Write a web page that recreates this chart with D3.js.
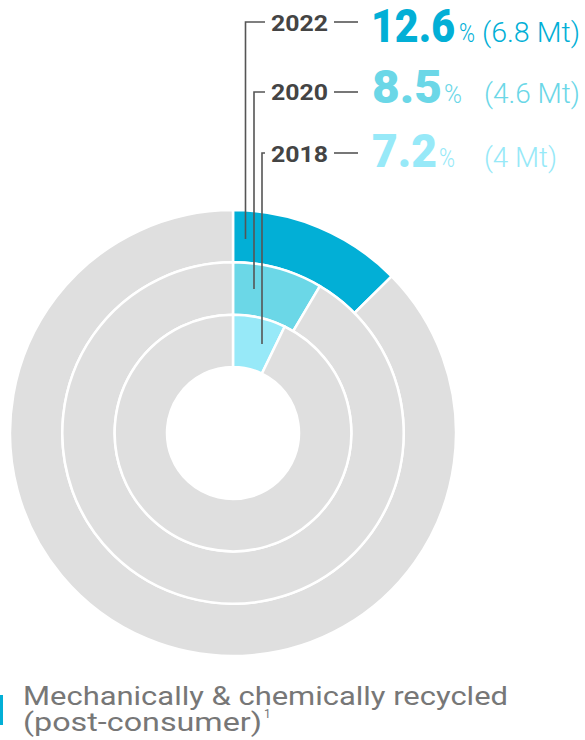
<!DOCTYPE html>
<html>
<head>
<meta charset="utf-8">
<script src="https://cdn.jsdelivr.net/npm/d3@7"></script>
<style>
  body { margin: 0; background: #fff; }
  svg { display: block; font-family: Roboto, "Open Sans", sans-serif; }
  .year { font-weight: 700; fill: #444; font-size: 22px; }
  .big { font-weight: 900; font-size: 47px; }
  .pct { font-weight: 300; font-size: 26px; }
  .unit { font-weight: 300; font-size: 28px; }
  .legend { fill: #777; font-size: 26px; }
</style>
</head>
<body>
<div class="chart"></div>
<script>
// data
var years = ["2022", "2020", "2018"]
var share = [12.6, 8.5, 7.2]
var tonnes = ["(6.8 Mt)", "(4.6 Mt)", "(4 Mt)"]
var legendLines = ["Mechanically & chemically recycled", "(post-consumer)"]

var ringColor = ["#02afd6", "#6bd7e7", "#97e9f8"]
var grey = "#dfdfdf"

let svg = d3.select('div.chart').append('svg')
  .attr("width", 585).attr("height", 740)

var cx = 233, cy = 433

// ring radius scale: outer ring first
let ring = d3.scaleBand()
  .domain(years)
  .range([223, 66])

let angle = d3.scaleLinear()
  .domain([0, 100])
  .range([0, 2 * Math.PI])

let pie = d3.pie().sort(null).value(d => angle(d))

let g = svg.append('g').attr("transform", "translate(" + cx + "," + cy + ")")

years.forEach((y, i) => {
  let arc = d3.arc()
    .innerRadius(ring(y))
    .outerRadius(ring(y) + ring.bandwidth())

  g.append('g')
    .selectAll('path')
    .data(pie([share[i], 100 - share[i]]))
    .enter()
    .append('path')
    .attr('d', arc)
    .attr('fill', (d, j) => j == 0 ? ringColor[i] : grey)
    .attr('stroke', '#fff')
    .attr('stroke-width', 2.5)
})

// labels + leader lines
var rowY = [22, 92, 153]
var yearBase = [31, 100, 162]
var numBase = [42, 103, 167]
var lineX = [245.5, 254, 262]
var lineEnd = [239, 289, 344]
var numX = [371, 372, 372]
var numW = [84, 70, 65]
var pctX = [459, 444, 439]
var pctW = [16, 18, 16]
var unitX = [482, 484, 484]
var unitW = [98, 96, 73]

years.forEach((y, i) => {
  // elbow line
  svg.append('path')
    .attr('d', "M" + lineX[i] + "," + lineEnd[i] + "V" + rowY[i] + "H265")
    .attr('fill', 'none')
    .attr('stroke', '#555')
    .attr('stroke-width', 1.6)

  svg.append('text')
    .attr("class", "year")
    .attr('x', 271)
    .attr('y', yearBase[i])
    .attr('textLength', 57)
    .attr('lengthAdjust', 'spacingAndGlyphs')
    .text(y)

  svg.append('line')
    .attr('x1', 334).attr('x2', 358)
    .attr('y1', rowY[i]).attr('y2', rowY[i])
    .attr('stroke', '#555')
    .attr('stroke-width', 1.6)

  svg.append('text')
    .attr("class", "big")
    .attr('x', numX[i])
    .attr('y', numBase[i])
    .attr('fill', ringColor[i])
    .attr('textLength', numW[i])
    .attr('lengthAdjust', 'spacingAndGlyphs')
    .text(share[i])

  svg.append('text')
    .attr("class", "pct")
    .attr('x', pctX[i])
    .attr('y', numBase[i])
    .attr('fill', ringColor[i])
    .attr('textLength', pctW[i])
    .attr('lengthAdjust', 'spacingAndGlyphs')
    .text("%")

  svg.append('text')
    .attr("class", "unit")
    .attr('x', unitX[i])
    .attr('y', numBase[i])
    .attr('fill', ringColor[i])
    .attr('textLength', unitW[i])
    .attr('lengthAdjust', 'spacingAndGlyphs')
    .text(tonnes[i])
})

// legend
svg.append('rect')
  .attr('x', 0).attr('y', 695)
  .attr('width', 3).attr('height', 30)
  .attr('fill', ringColor[0])

svg.append('text')
  .attr("class", "legend")
  .attr('x', 23).attr('y', 705)
  .attr('textLength', 485)
  .attr('lengthAdjust', 'spacingAndGlyphs')
  .text(legendLines[0])

svg.append('text')
  .attr("class", "legend")
  .attr('x', 23).attr('y', 731)
  .attr('textLength', 239)
  .attr('lengthAdjust', 'spacingAndGlyphs')
  .text(legendLines[1])

svg.append('text')
  .attr("class", "legend")
  .attr('x', 264).attr('y', 718)
  .style('font-size', '12px')
  .text("1")
</script>
</body>
</html>
